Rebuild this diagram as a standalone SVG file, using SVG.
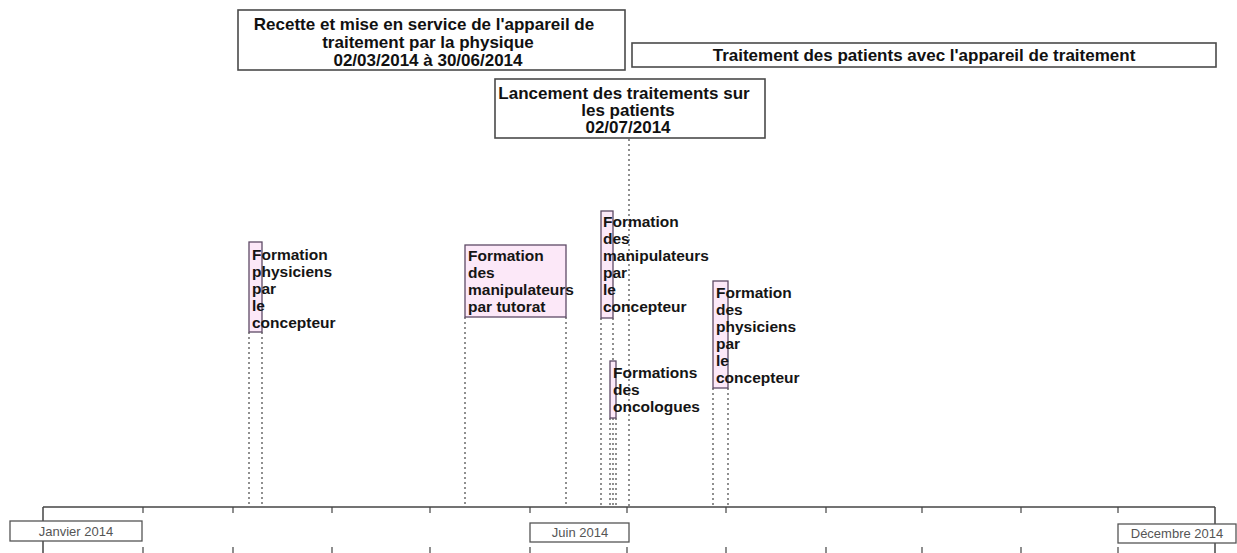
<svg xmlns="http://www.w3.org/2000/svg" width="1237" height="553" viewBox="0 0 1237 553">
  <style>
    .phase rect { fill: #ffffff; stroke: #4a4a4a; stroke-width: 1.6; }
    .phase text { font-family: "Liberation Sans", Arial, sans-serif; font-weight: bold; font-size: 17px; fill: #111111; text-anchor: middle; }
    .event rect { fill: #fce8f8; stroke: #5e4a66; stroke-width: 1.3; }
    .event text { font-family: "Liberation Sans", Arial, sans-serif; font-weight: bold; font-size: 15.5px; fill: #151515; }
    .guide { stroke: #555555; stroke-width: 1.3; stroke-dasharray: 2 3; fill: none; }
    .axis { stroke: #444444; stroke-width: 1.5; fill: none; }
    .tick { stroke: #444444; stroke-width: 1.2; }
    .month rect { fill: #ffffff; stroke: #555555; stroke-width: 1.3; }
    .month text { font-family: "Liberation Sans", Arial, sans-serif; font-size: 13px; fill: #555555; text-anchor: middle; }
  </style>

  <rect width="1237" height="553" fill="#ffffff"/>

  <!-- connectors: dotted guides from each event down to the time axis -->
  <g id="connectors">
    <line class="guide" x1="249" y1="332" x2="249" y2="507"/>
    <line class="guide" x1="262" y1="332" x2="262" y2="507"/>
    <line class="guide" x1="465" y1="317" x2="465" y2="507"/>
    <line class="guide" x1="566" y1="317" x2="566" y2="507"/>
    <line class="guide" x1="601" y1="318" x2="601" y2="507"/>
    <line class="guide" x1="613" y1="318" x2="613" y2="507"/>
    <line class="guide" x1="610" y1="418" x2="610" y2="507"/>
    <line class="guide" x1="616" y1="418" x2="616" y2="507"/>
    <line class="guide" x1="629" y1="139" x2="629" y2="507"/>
    <line class="guide" x1="713" y1="388" x2="713" y2="507"/>
    <line class="guide" x1="728" y1="388" x2="728" y2="507"/>
  </g>

  <!-- time axis -->
  <g id="axis">
    <line class="axis" x1="43" y1="507" x2="1215" y2="507"/>
    <line class="axis" x1="43" y1="507" x2="43" y2="553"/>
    <line class="axis" x1="1215" y1="507" x2="1215" y2="553"/>
    <g class="tick">
      <line x1="143" y1="507" x2="143" y2="513"/><line x1="143" y1="547" x2="143" y2="553"/>
      <line x1="233" y1="507" x2="233" y2="513"/><line x1="233" y1="547" x2="233" y2="553"/>
      <line x1="332" y1="507" x2="332" y2="513"/><line x1="332" y1="547" x2="332" y2="553"/>
      <line x1="430" y1="507" x2="430" y2="513"/><line x1="430" y1="547" x2="430" y2="553"/>
      <line x1="530" y1="507" x2="530" y2="513"/><line x1="530" y1="547" x2="530" y2="553"/>
      <line x1="627" y1="507" x2="627" y2="513"/><line x1="627" y1="547" x2="627" y2="553"/>
      <line x1="726" y1="507" x2="726" y2="513"/><line x1="726" y1="547" x2="726" y2="553"/>
      <line x1="826" y1="507" x2="826" y2="513"/><line x1="826" y1="547" x2="826" y2="553"/>
      <line x1="922" y1="507" x2="922" y2="513"/><line x1="922" y1="547" x2="922" y2="553"/>
      <line x1="1021" y1="507" x2="1021" y2="513"/><line x1="1021" y1="547" x2="1021" y2="553"/>
      <line x1="1118" y1="507" x2="1118" y2="513"/><line x1="1118" y1="547" x2="1118" y2="553"/>
    </g>
    <g class="month" id="label-janvier">
      <rect x="10" y="521" width="132" height="20"/>
      <text x="76" y="536">Janvier 2014</text>
    </g>
    <g class="month" id="label-juin">
      <rect x="530" y="523" width="99" height="19"/>
      <text x="580" y="537">Juin 2014</text>
    </g>
    <g class="month" id="label-decembre">
      <rect x="1118" y="524" width="118" height="19"/>
      <text x="1177" y="538">Décembre 2014</text>
    </g>
  </g>

  <!-- phases -->
  <g class="phase" id="recette">
    <rect x="238" y="10" width="387" height="60"/>
    <text x="424" y="30">Recette et mise en service de l'appareil de</text>
    <text x="428" y="48">traitement par la physique</text>
    <text x="428" y="66">02/03/2014 à 30/06/2014</text>
  </g>
  <g class="phase" id="traitement">
    <rect x="632" y="43" width="584" height="24"/>
    <text x="924" y="61">Traitement des patients avec l'appareil de traitement</text>
  </g>
  <g class="phase" id="lancement">
    <rect x="495" y="79" width="270" height="59"/>
    <text x="624" y="99">Lancement des traitements sur</text>
    <text x="628" y="116">les patients</text>
    <text x="628" y="133">02/07/2014</text>
  </g>

  <!-- training events -->
  <g class="event" id="formation-physiciens-1">
    <rect x="249" y="242" width="13" height="90"/>
    <text x="252" y="260">Formation</text>
    <text x="252" y="277">physiciens</text>
    <text x="252" y="294">par</text>
    <text x="252" y="311">le</text>
    <text x="252" y="328">concepteur</text>
  </g>
  <g class="event" id="formation-tutorat">
    <rect x="465" y="245" width="101" height="72"/>
    <text x="468" y="261">Formation</text>
    <text x="468" y="278">des</text>
    <text x="468" y="295">manipulateurs</text>
    <text x="468" y="312">par tutorat</text>
  </g>
  <g class="event" id="formation-manipulateurs">
    <rect x="601" y="211" width="12" height="107"/>
    <text x="603" y="227">Formation</text>
    <text x="603" y="244">des</text>
    <text x="603" y="261">manipulateurs</text>
    <text x="603" y="278">par</text>
    <text x="603" y="295">le</text>
    <text x="603" y="312">concepteur</text>
  </g>
  <g class="event" id="formation-oncologues">
    <rect x="610" y="361" width="6" height="57"/>
    <text x="613" y="378">Formations</text>
    <text x="613" y="395">des</text>
    <text x="613" y="412">oncologues</text>
  </g>
  <g class="event" id="formation-physiciens-2">
    <rect x="713" y="281" width="15" height="107"/>
    <text x="716" y="298">Formation</text>
    <text x="716" y="315">des</text>
    <text x="716" y="332">physiciens</text>
    <text x="716" y="349">par</text>
    <text x="716" y="366">le</text>
    <text x="716" y="383">concepteur</text>
  </g>
</svg>
